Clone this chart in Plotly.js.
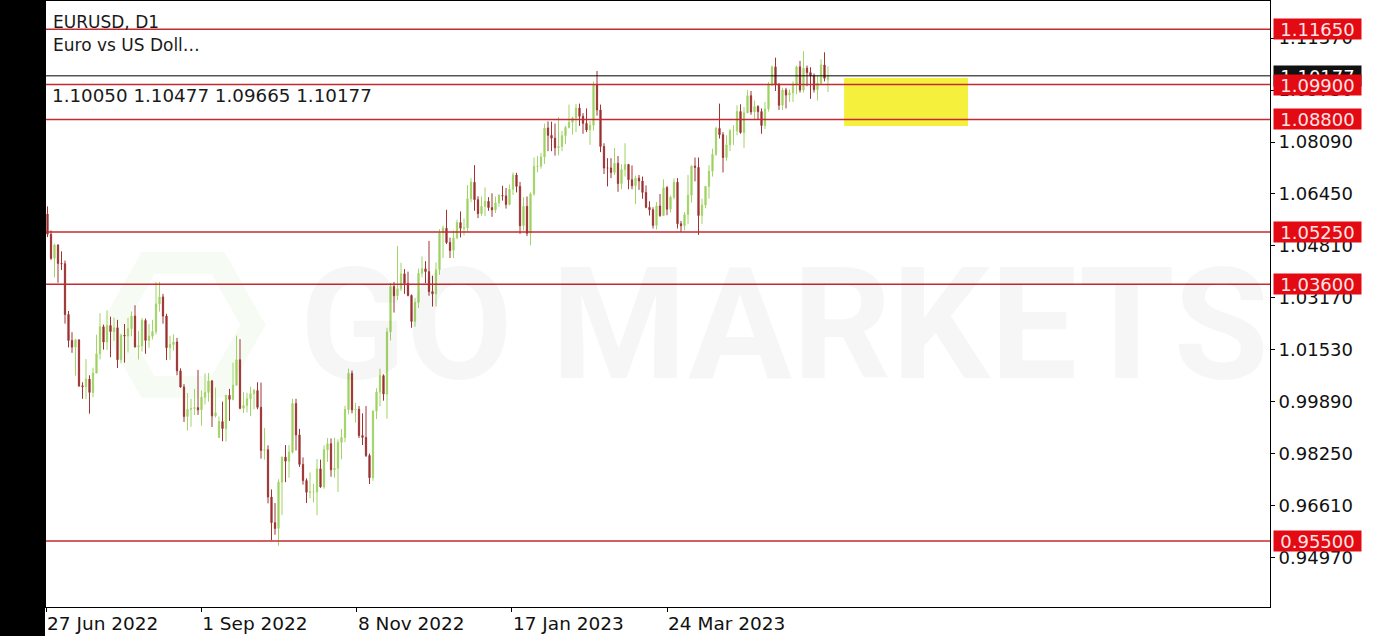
<!DOCTYPE html>
<html>
<head>
<meta charset="utf-8">
<script src="https://cdn.plot.ly/plotly-3.0.1.min.js"></script>
<style>
  html, body { margin: 0; padding: 0; background: #ffffff; }
  #chart { width: 1377px; height: 636px; }
</style>
</head>
<body>
<div id="chart"></div>
<script>
// ---- Data: EURUSD D1, 27 Jun 2022 .. 5 May 2023 (one entry per trading day) ----
const openPrices = [
  1.0553,1.0582,1.0518,1.0442,
  1.0484,1.0426,1.0425,1.0265,1.0183,1.0162,1.0185,1.0040,1.0037,1.0061,1.0019,1.0080,1.0141,1.0226,1.0178,1.0230,1.0211,1.0223,1.0122,1.0199,1.0197,
  1.0220,1.0260,1.0163,1.0166,1.0246,1.0183,1.0196,1.0211,1.0298,1.0320,1.0260,1.0160,1.0170,1.0178,1.0087,1.0036,0.9943,0.9966,0.9968,0.9971,0.9964,1.0004,1.0019,
  1.0055,0.9945,0.9877,0.9927,0.9905,1.0010,0.9997,1.0042,1.0122,0.9969,0.9978,0.9999,1.0015,1.0025,0.9972,0.9836,0.9838,0.9689,0.9608,0.9590,0.9736,0.9815,
  0.9802,0.9830,0.9984,0.9885,0.9792,0.9741,0.9704,0.9705,0.9705,0.9778,0.9721,0.9838,0.9857,0.9775,0.9780,0.9861,0.9877,0.9965,1.0079,0.9964,0.9966,
  0.9883,0.9877,0.9820,0.9750,0.9960,1.0020,1.0072,1.0014,1.0210,1.0353,1.0324,1.0346,1.0393,1.0363,1.0325,1.0243,1.0303,1.0395,1.0409,1.0400,1.0337,1.0330,
  1.0406,1.0523,1.0537,1.0492,1.0467,1.0507,1.0555,1.0537,1.0538,1.0630,1.0682,1.0627,1.0583,1.0606,1.0622,1.0602,1.0595,1.0617,1.0640,1.0639,1.0612,1.0660,
  1.0705,1.0669,1.0545,1.0606,1.0521,1.0645,1.0732,1.0733,1.0762,1.0853,1.0830,1.0821,1.0791,1.0795,1.0829,1.0855,1.0871,1.0885,1.0916,1.0890,1.0868,1.0847,
  1.0862,1.0990,1.0910,1.0795,1.0727,1.0727,1.0713,1.0742,1.0678,1.0722,1.0738,1.0690,1.0671,1.0695,1.0686,1.0650,1.0603,1.0595,1.0546,1.0607,
  1.0577,1.0665,1.0597,1.0635,1.0682,1.0551,1.0545,1.0580,1.0641,1.0733,1.0729,1.0577,1.0610,1.0669,1.0717,1.0770,1.0852,1.0832,1.0760,1.0800,1.0844,1.0844,1.0905,
  1.0839,1.0901,1.0955,1.0904,1.0921,1.0905,1.0861,1.0913,1.0992,1.1046,1.0991,1.0925,1.0973,1.0957,1.0964,1.0991,1.1046,1.0973,1.1042,1.1028,
  1.1018,1.0974,1.0995,1.1052,1.10050
];
const highPrices = [
  1.0615,1.0606,1.0530,1.0488,
  1.0486,1.0464,1.0435,1.0276,1.0209,1.0188,1.0185,1.0051,1.0124,1.0073,1.0097,1.0201,1.0269,1.0233,1.0278,1.0258,1.0255,1.0248,1.0204,1.0235,1.0254,
  1.0274,1.0294,1.0212,1.0254,1.0252,1.0235,1.0248,1.0368,1.0368,1.0330,1.0267,1.0198,1.0202,1.0191,1.0095,1.0045,1.0017,0.9999,1.0030,1.0090,1.0025,1.0079,1.0080,
  1.0058,1.0034,0.9943,0.9990,1.0011,1.0030,1.0113,1.0198,1.0187,1.0020,1.0018,1.0037,1.0030,1.0051,1.0050,0.9907,0.9852,0.9713,0.9670,0.9745,0.9816,0.9853,
  0.9853,0.9999,0.9999,0.9904,0.9814,0.9748,0.9767,0.9731,0.9809,0.9807,0.9852,0.9875,0.9874,0.9876,0.9871,0.9904,0.9977,1.0094,1.0088,0.9986,0.9976,
  0.9953,0.9976,0.9826,0.9963,1.0032,1.0094,1.0076,1.0223,1.0364,1.0367,1.0481,1.0428,1.0408,1.0400,1.0328,1.0317,1.0410,1.0448,1.0433,1.0497,1.0387,1.0429,
  1.0534,1.0545,1.0595,1.0507,1.0530,1.0564,1.0590,1.0568,1.0673,1.0695,1.0736,1.0638,1.0637,1.0666,1.0635,1.0647,1.0637,1.0645,1.0671,1.0664,1.0675,1.0713,
  1.0712,1.0683,1.0635,1.0637,1.0650,1.0760,1.0765,1.0775,1.0867,1.0874,1.0873,1.0867,1.0887,1.0844,1.0860,1.0927,1.0889,1.0929,1.0930,1.0900,1.0915,1.0875,
  1.1000,1.1033,1.0927,1.0805,1.0758,1.0758,1.0790,1.0765,1.0739,1.0805,1.0740,1.0735,1.0703,1.0705,1.0700,1.0672,1.0622,1.0603,1.0620,1.0645,
  1.0691,1.0670,1.0640,1.0694,1.0695,1.0560,1.0588,1.0705,1.0735,1.0760,1.0760,1.0630,1.0670,1.0736,1.0788,1.0857,1.0930,1.0840,1.0830,1.0850,1.0862,1.0925,1.0928,
  1.0919,1.0973,1.0970,1.0940,1.0925,1.0915,1.0935,1.0998,1.1050,1.1075,1.0995,1.0980,1.0980,1.0975,1.1000,1.1050,1.1065,1.1095,1.1050,1.1045,
  1.1025,1.1020,1.1070,1.1092,1.10477
];
const lowPrices = [
  1.0549,1.0509,1.0437,1.0382,
  1.0365,1.0405,1.0236,1.0161,1.0144,1.0072,1.0036,0.9999,0.9998,0.9952,1.0004,1.0080,1.0123,1.0154,1.0153,1.0130,1.0182,1.0096,1.0111,1.0113,1.0145,
  1.0196,1.0160,1.0123,1.0148,1.0141,1.0160,1.0186,1.0202,1.0274,1.0236,1.0121,1.0122,1.0151,1.0073,1.0034,0.9926,0.9899,0.9911,0.9948,0.9948,0.9914,0.9981,0.9990,
  0.9910,0.9940,0.9876,0.9865,0.9864,0.9929,0.9994,1.0040,0.9966,0.9954,0.9956,0.9944,0.9966,0.9966,0.9810,0.9807,0.9669,0.9553,0.9570,0.9535,0.9632,0.9736,
  0.9750,0.9826,0.9836,0.9784,0.9728,0.9670,0.9685,0.9672,0.9632,0.9718,0.9715,0.9800,0.9753,0.9750,0.9705,0.9808,0.9862,0.9950,0.9953,0.9924,0.9875,
  0.9853,0.9815,0.9730,0.9740,0.9935,0.9975,0.9993,0.9936,1.0183,1.0271,1.0310,1.0339,1.0330,1.0322,1.0223,1.0226,1.0285,1.0382,1.0364,1.0324,1.0290,1.0290,
  1.0390,1.0443,1.0487,1.0443,1.0443,1.0502,1.0508,1.0514,1.0527,1.0619,1.0592,1.0569,1.0576,1.0575,1.0592,1.0573,1.0585,1.0605,1.0624,1.0599,1.0609,1.0642,
  1.0650,1.0519,1.0530,1.0512,1.0483,1.0640,1.0713,1.0725,1.0740,1.0780,1.0780,1.0766,1.0767,1.0780,1.0802,1.0852,1.0832,1.0840,1.0860,1.0835,1.0840,1.0800,
  1.0845,1.0892,1.0777,1.0708,1.0669,1.0695,1.0705,1.0652,1.0660,1.0700,1.0660,1.0660,1.0613,1.0658,1.0630,1.0600,1.0577,1.0536,1.0533,1.0573,
  1.0576,1.0578,1.0587,1.0628,1.0536,1.0525,1.0530,1.0550,1.0618,1.0685,1.0516,1.0550,1.0600,1.0630,1.0700,1.0765,1.0820,1.0713,1.0750,1.0780,1.0800,1.0830,1.0835,
  1.0790,1.0900,1.0895,1.0880,1.0880,1.0835,1.0850,1.0905,1.0985,1.0970,1.0910,1.0910,1.0915,1.0935,1.0935,1.0960,1.0965,1.0965,1.0985,1.0945,
  1.0965,1.0940,1.0990,1.1000,1.09665
];
const closePrices = [
  1.0582,1.0518,1.0442,1.0484,
  1.0426,1.0425,1.0265,1.0183,1.0162,1.0185,1.0040,1.0037,1.0061,1.0019,1.0080,1.0141,1.0226,1.0178,1.0230,1.0211,1.0223,1.0122,1.0199,1.0197,1.0220,
  1.0260,1.0163,1.0166,1.0246,1.0183,1.0196,1.0211,1.0298,1.0320,1.0260,1.0160,1.0170,1.0178,1.0087,1.0036,0.9943,0.9966,0.9968,0.9971,0.9964,1.0004,1.0019,1.0055,
  0.9945,0.9955,0.9927,0.9905,1.0010,0.9997,1.0042,1.0122,0.9969,0.9978,0.9999,1.0015,1.0025,0.9972,0.9836,0.9838,0.9689,0.9608,0.9590,0.9736,0.9815,0.9802,
  0.9830,0.9984,0.9885,0.9792,0.9741,0.9704,0.9705,0.9705,0.9778,0.9721,0.9838,0.9857,0.9775,0.9780,0.9861,0.9877,0.9965,1.0079,0.9964,0.9966,0.9883,
  0.9877,0.9820,0.9750,0.9960,1.0020,1.0072,1.0014,1.0210,1.0353,1.0324,1.0346,1.0393,1.0363,1.0325,1.0243,1.0303,1.0395,1.0409,1.0400,1.0337,1.0330,1.0406,
  1.0523,1.0537,1.0492,1.0467,1.0507,1.0555,1.0537,1.0538,1.0630,1.0682,1.0627,1.0583,1.0606,1.0622,1.0602,1.0595,1.0617,1.0640,1.0639,1.0612,1.0660,1.0705,
  1.0669,1.0545,1.0606,1.0521,1.0645,1.0732,1.0733,1.0762,1.0853,1.0830,1.0821,1.0791,1.0795,1.0829,1.0855,1.0871,1.0885,1.0916,1.0890,1.0868,1.0847,1.0862,
  1.0990,1.0910,1.0795,1.0727,1.0727,1.0713,1.0742,1.0678,1.0722,1.0738,1.0690,1.0671,1.0695,1.0686,1.0650,1.0603,1.0595,1.0546,1.0607,1.0577,
  1.0665,1.0597,1.0635,1.0682,1.0551,1.0545,1.0580,1.0641,1.0733,1.0729,1.0577,1.0610,1.0669,1.0717,1.0770,1.0852,1.0832,1.0760,1.0800,1.0844,1.0844,1.0905,1.0839,
  1.0901,1.0955,1.0904,1.0921,1.0905,1.0861,1.0913,1.0992,1.1046,1.0991,1.0925,1.0973,1.0957,1.0964,1.0991,1.1046,1.0973,1.1042,1.1028,1.1018,
  1.0974,1.0995,1.1052,1.1010,1.10177
];

// Axis labels
const xTickLabels = ['27 Jun 2022', '1 Sep 2022', '8 Nov 2022', '17 Jan 2023', '24 Mar 2023'];
const xTickBars   = [0.6, 44.9, 89.4, 133.7, 178.0];
const yTickValues = [0.94970, 0.96610, 0.98250, 0.99890, 1.01530, 1.03170, 1.04810, 1.06450, 1.08090, 1.09730, 1.11370];

// Horizontal levels drawn on the chart
const levelPrices = [1.11650, 1.09900, 1.08800, 1.05250, 1.03600, 0.95500];
const currentPrice = 1.10177;
const lastBarText = '1.10050 1.10477 1.09665 1.10177';
// Highlighted zone (bars / prices)
const zoneBars = [228.6, 264.0];
const zonePrices = [1.08595, 1.10109];

// ---- Layout helpers ----
const W = 1377, H = 636;
const M = { l: 46, r: 107, t: 1, b: 29 };
const PW = W - M.l - M.r, PH = H - M.t - M.b;
const px = (x) => (x - M.l) / PW;          // pixel -> paper x
const py = (y) => 1 - (y - M.t) / PH;      // pixel -> paper y

const barIndex = openPrices.map((_, i) => i);

const trace = {
  type: 'candlestick',
  x: barIndex,
  open: openPrices, high: highPrices, low: lowPrices, close: closePrices,
  increasing: { line: { color: '#a2d468', width: 1 }, fillcolor: '#97cc55' },
  decreasing: { line: { color: '#9e3434', width: 1 }, fillcolor: '#9a2a2a' },
  whiskerwidth: 0,
  hoverinfo: 'skip',
  showlegend: false
};

const FONT = 'DejaVu Sans, Roboto, sans-serif';

const shapes = [];
// left black strip
shapes.push({ type: 'rect', xref: 'paper', yref: 'paper', x0: px(0), x1: px(45), y0: py(H), y1: py(0),
  fillcolor: '#000', line: { width: 0 }, layer: 'above' });
// faint logo hexagon (watermark)
(function () {
  const cx = 183, cy = 325, rx = 70, ry = 62;
  const pts = [[cx - rx, cy], [cx - rx / 2, cy - ry], [cx + rx / 2, cy - ry], [cx + rx, cy], [cx + rx / 2, cy + ry], [cx - rx / 2, cy + ry]];
  const d = pts.map((p, i) => (i ? 'L' : 'M') + px(p[0]).toFixed(5) + ',' + py(p[1]).toFixed(5)).join(' ') + ' Z';
  shapes.push({ type: 'path', xref: 'paper', yref: 'paper', path: d, line: { color: 'rgba(140,200,120,0.08)', width: 22 }, layer: 'below' });
})();
// yellow zone
shapes.push({ type: 'rect', xref: 'x', yref: 'y', x0: zoneBars[0], x1: zoneBars[1], y0: zonePrices[0], y1: zonePrices[1],
  fillcolor: '#f5f03c', line: { width: 0 }, layer: 'below' });
// current price line
shapes.push({ type: 'line', xref: 'paper', yref: 'y', x0: 0, x1: 1, y0: currentPrice, y1: currentPrice,
  line: { color: '#000', width: 1 }, layer: 'above' });
// red levels
levelPrices.forEach(v => shapes.push({ type: 'line', xref: 'paper', yref: 'y', x0: 0, x1: 1, y0: v, y1: v,
  line: { color: '#c42a32', width: 1.5 }, layer: 'above' }));

const annotations = [];
// watermark text
annotations.push({ xref: 'paper', yref: 'paper', x: px(784), y: py(325), xanchor: 'center', yanchor: 'middle',
  text: 'GO MARKETS', showarrow: false,
  font: { family: 'Roboto, sans-serif', size: 155, weight: 'bold', color: 'rgba(0,0,0,0.035)' } });
// header texts
annotations.push({ xref: 'paper', yref: 'paper', x: px(51), y: py(22), xanchor: 'left', yanchor: 'middle',
  text: 'EURUSD, D1', showarrow: false, font: { family: FONT, size: 17, color: '#1a1a1a' } });
annotations.push({ xref: 'paper', yref: 'paper', x: px(51), y: py(45), xanchor: 'left', yanchor: 'middle',
  text: 'Euro vs US Doll…', showarrow: false, font: { family: FONT, size: 17, color: '#1a1a1a' } });
annotations.push({ xref: 'paper', yref: 'paper', x: px(50), y: py(95), xanchor: 'left', yanchor: 'middle',
  text: lastBarText, showarrow: false, font: { family: FONT, size: 18.3, color: '#1a1a1a' } });
// price tags
annotations.push({ xref: 'paper', yref: 'y', x: px(1273), y: currentPrice, xanchor: 'left', yanchor: 'middle',
  text: currentPrice.toFixed(5), showarrow: false, width: 87, height: 20, borderpad: 0, bgcolor: '#111111',
  font: { family: FONT, size: 18, color: '#ffffff' } });
levelPrices.forEach(v => annotations.push({ xref: 'paper', yref: 'y', x: px(1273), y: v, xanchor: 'left', yanchor: 'middle',
  text: v.toFixed(5), showarrow: false, width: 87, height: 20, borderpad: 0, bgcolor: '#e30a14',
  font: { family: FONT, size: 18, color: '#ffe4e4' } }));

const layout = {
  width: W, height: H,
  margin: M,
  paper_bgcolor: '#ffffff', plot_bgcolor: '#ffffff',
  showlegend: false,
  boxgap: 0.5,
  xaxis: {
    range: [(M.l - 44) / 3.5, (W - M.r - 44) / 3.5],
    showgrid: false, zeroline: false,
    showline: true, mirror: true, linecolor: '#000', linewidth: 1,
    ticks: 'outside', ticklen: 4, tickcolor: '#000',
    tickmode: 'array', tickvals: xTickBars, ticktext: xTickLabels,
    ticklabelposition: 'outside right',
    tickfont: { family: FONT, size: 18.5, color: '#111' },
    rangeslider: { visible: false },
    fixedrange: true
  },
  yaxis: {
    range: [0.93421, 1.12538],
    side: 'right',
    showgrid: false, zeroline: false,
    showline: true, mirror: true, linecolor: '#000', linewidth: 1,
    ticks: 'outside', ticklen: 4, tickcolor: '#000',
    tickmode: 'array', tickvals: yTickValues, ticktext: yTickValues.map(v => v.toFixed(5)),
    tickfont: { family: FONT, size: 18, color: '#111' },
    fixedrange: true
  },
  shapes: shapes,
  annotations: annotations
};

Plotly.newPlot('chart', [trace], layout, { staticPlot: true, displayModeBar: false });
</script>
</body>
</html>
